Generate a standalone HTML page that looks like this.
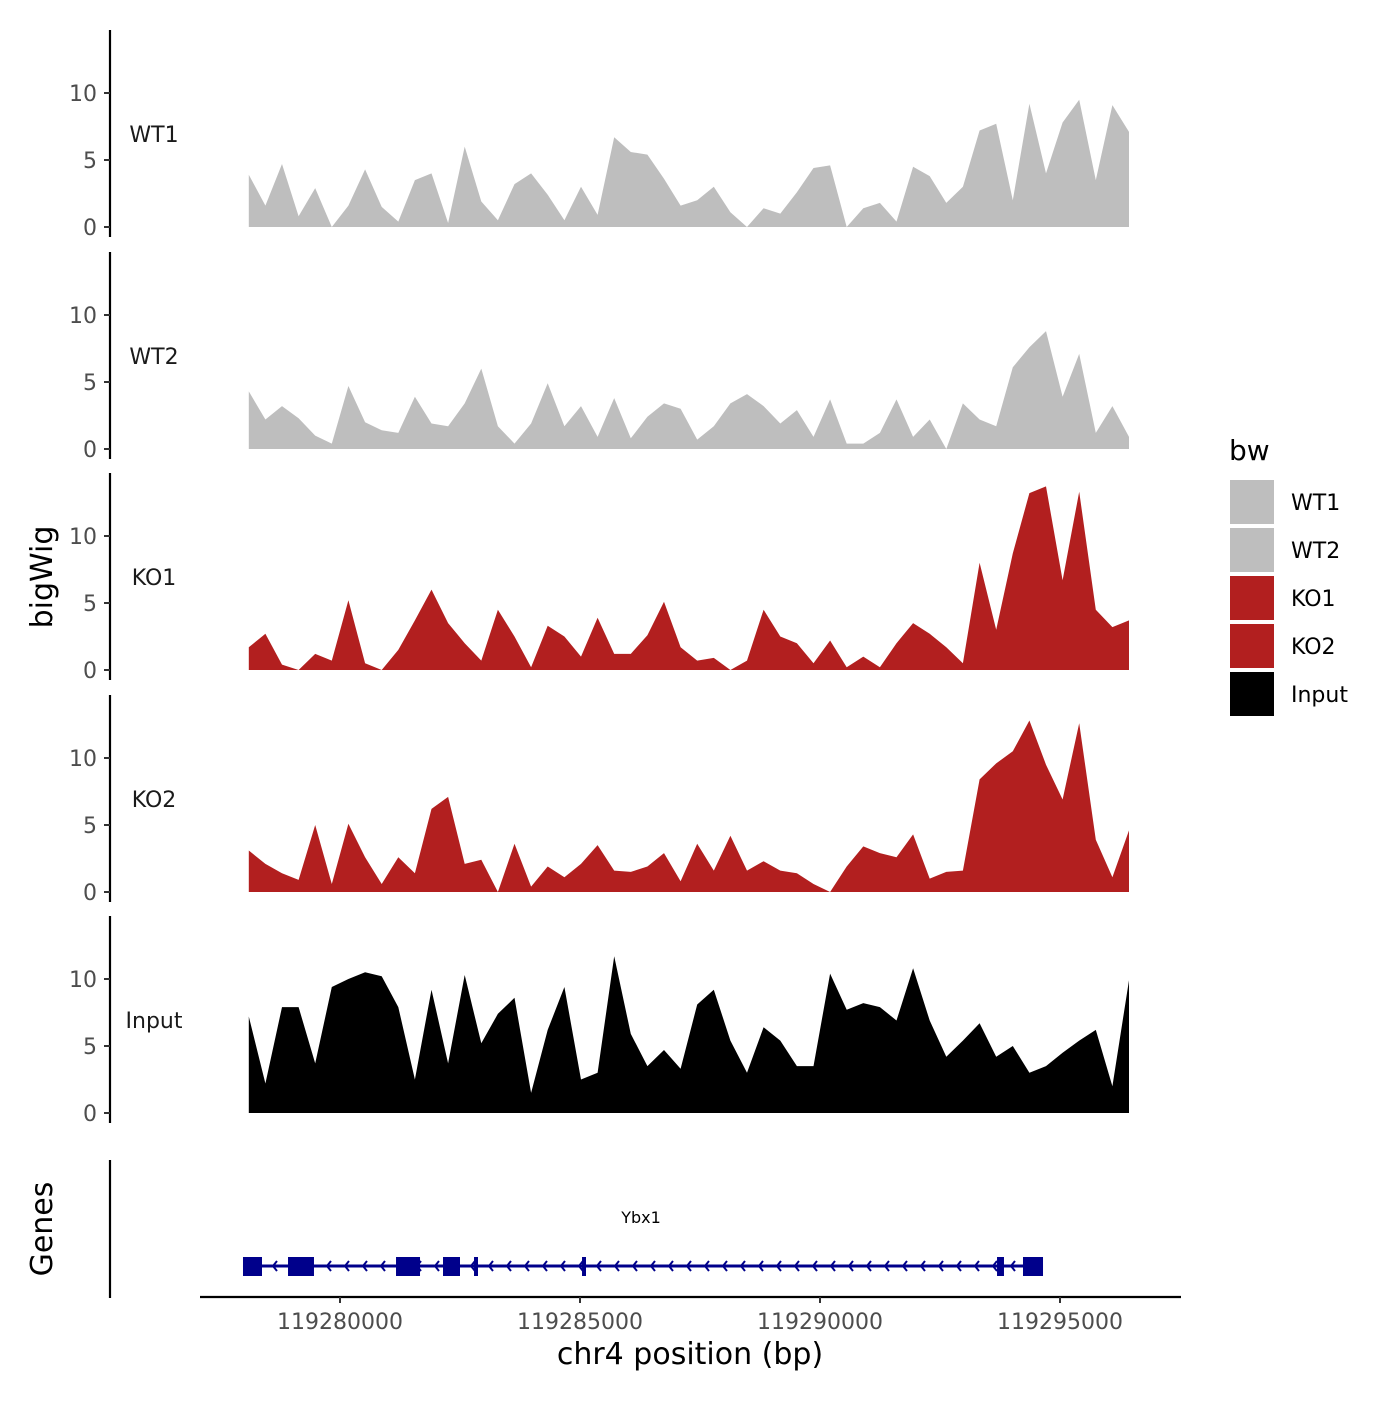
<!DOCTYPE html>
<html><head><meta charset="utf-8"><style>
html,body{margin:0;padding:0;background:#fff;}
svg text{font-family:"DejaVu Sans","Liberation Sans",sans-serif;}
</style></head><body>
<svg id="chart" width="1400" height="1400" viewBox="0 0 1400 1400" xmlns="http://www.w3.org/2000/svg"></svg>
<script>
const trackNames = ["WT1","WT2","KO1","KO2","Input"];
const trackColors = ["#bebebe","#bebebe","#b21f1f","#b21f1f","#000000"];
const posStart = 119278100;
const posStep = 346;
const wt1 = [3.9,1.6,4.7,0.8,2.9,0,1.6,4.3,1.5,0.4,3.5,4.0,0.3,6.0,1.9,0.5,3.2,4.0,2.4,0.5,3.0,0.9,6.7,5.6,5.4,3.6,1.6,2.0,3.0,1.1,0,1.4,1.0,2.6,4.4,4.6,0,1.4,1.8,0.4,4.5,3.8,1.8,3.0,7.2,7.7,2.0,9.2,4.0,7.8,9.5,3.5,9.1,7.1];
const wt2 = [4.3,2.2,3.2,2.3,1.0,0.4,4.7,2.0,1.4,1.2,3.9,1.9,1.7,3.4,6.0,1.7,0.4,1.9,4.9,1.7,3.2,0.9,3.8,0.8,2.4,3.4,3.0,0.7,1.7,3.4,4.1,3.2,1.9,2.9,0.9,3.7,0.4,0.4,1.2,3.7,0.9,2.2,0,3.4,2.2,1.7,6.1,7.6,8.8,3.9,7.1,1.2,3.2,0.9];
const ko1 = [1.7,2.7,0.4,0,1.2,0.7,5.2,0.5,0,1.5,3.7,6.0,3.5,2.0,0.7,4.5,2.5,0.2,3.3,2.5,1.0,3.9,1.2,1.2,2.6,5.1,1.7,0.7,0.9,0,0.7,4.5,2.5,2.0,0.5,2.2,0.2,1.0,0.2,2.0,3.5,2.7,1.7,0.5,8.0,3.0,8.7,13.2,13.7,6.7,13.3,4.5,3.2,3.7];
const ko2 = [3.1,2.1,1.4,0.9,5.0,0.6,5.1,2.6,0.6,2.6,1.4,6.2,7.1,2.1,2.4,0,3.6,0.4,1.9,1.1,2.1,3.5,1.6,1.5,1.9,2.9,0.8,3.6,1.6,4.2,1.6,2.3,1.6,1.4,0.6,0,1.9,3.4,2.9,2.6,4.3,1.0,1.5,1.6,8.4,9.6,10.5,12.8,9.5,6.9,12.6,3.9,1.1,4.6];
const inputSig = [7.2,2.2,7.9,7.9,3.7,9.4,10.0,10.5,10.2,7.9,2.5,9.2,3.7,10.3,5.2,7.4,8.6,1.5,6.2,9.4,2.5,3.0,11.7,5.9,3.5,4.7,3.3,8.1,9.2,5.4,3.0,6.4,5.4,3.5,3.5,10.4,7.7,8.2,7.9,6.9,10.8,6.9,4.2,5.4,6.7,4.2,5.0,3.0,3.5,4.5,5.4,6.2,2.0,9.9];
const yTicks = [0,5,10];
const xTicks = [119280000,119285000,119290000,119295000];
const exonStarts = [119277979,119278917,119281167,119282146,119282792,119285042,119293688,119294229];
const exonEnds   = [119278375,119279458,119281667,119282500,119282875,119285125,119293833,119294646];
const geneStart = 119277979, geneEnd = 119294646;

const svg = document.getElementById('chart');
const NS = 'http://www.w3.org/2000/svg';
function mk(tag, attrs, parent){const e=document.createElementNS(NS,tag);for(const k in attrs)e.setAttribute(k,attrs[k]);(parent||svg).appendChild(e);return e;}
const xScale = bp => 340 + (bp - 119280000) / 1000 * 48;
const baselines = [227,449,670,892,1113];
const pxPerUnit = 13.4;
const seriesList = [wt1, wt2, ko1, ko2, inputSig];

trackNames.forEach((name, t) => {
  const base = baselines[t];
  const yS = v => base - v * pxPerUnit;
  const g = mk('g', {});
  
  
  const ax = mk('line', {x1:110, x2:110, y1:base-197, y2:base+10, stroke:'#000', 'stroke-width':2.2}, g);
  
  
  yTicks.forEach(v => {
    const tk = mk('line', {x1:104, x2:110, y1:yS(v), y2:yS(v), stroke:'#333', 'stroke-width':2}, g);
    
    
    const tl = mk('text', {x:97, y:yS(v)+8, 'text-anchor':'end', 'font-size':22, fill:'#4d4d4d'}, g);
    tl.textContent = v;
    
    
  });
  const lab = mk('text', {x:154, y:base-85, 'text-anchor':'middle', 'font-size':22, fill:'#1a1a1a'}, g);
  lab.textContent = name;
  
  
  const data = seriesList[t];
  let d = 'M' + xScale(posStart) + ',' + base;
  data.forEach((v, i) => { d += ' L' + xScale(posStart + i*posStep).toFixed(1) + ',' + yS(v).toFixed(1); });
  d += ' L' + xScale(posStart + (data.length-1)*posStep).toFixed(1) + ',' + base + ' Z';
  const area = mk('path', {d:d, fill:trackColors[t]}, g);
  
  
});

const yt = mk('text', {x:52, y:577, 'text-anchor':'middle', 'font-size':30, fill:'#000', transform:'rotate(-90 52 577)'});
yt.textContent = 'bigWig';



const gax = mk('line', {x1:110, x2:110, y1:1160, y2:1298, stroke:'#000', 'stroke-width':2.2});


const gt = mk('text', {x:52, y:1229, 'text-anchor':'middle', 'font-size':30, fill:'#000', transform:'rotate(-90 52 1229)'});
gt.textContent = 'Genes';


const gl = mk('line', {x1:xScale(geneStart), x2:xScale(geneEnd), y1:1266, y2:1266, stroke:'#00008b', 'stroke-width':3});


for (let x = xScale(geneStart)+12; x < xScale(geneEnd)-6; x += 18) {
  const ch = mk('polyline', {points:(x+4)+',1261 '+x+',1266 '+(x+4)+',1271', fill:'none', stroke:'#00008b', 'stroke-width':2});
  
  
}
exonStarts.forEach((s, i) => {
  const w = xScale(exonEnds[i]) - xScale(s);
  const r = mk('rect', {x:xScale(s), y:1257, width:w, height:19, fill:'#00008b'});
  
  
});
const gn = mk('text', {x:641, y:1223, 'text-anchor':'middle', 'font-size':16, fill:'#000'});
gn.textContent = 'Ybx1';



const xa = mk('line', {x1:200, x2:1181, y1:1297, y2:1297, stroke:'#000', 'stroke-width':2.2});


xTicks.forEach(v => {
  const tk = mk('line', {x1:xScale(v), x2:xScale(v), y1:1297, y2:1303, stroke:'#333', 'stroke-width':2});
  
  
  const tl = mk('text', {x:xScale(v), y:1329, 'text-anchor':'middle', 'font-size':22, fill:'#4d4d4d'});
  tl.textContent = v;
  
  
});
const xt = mk('text', {x:690, y:1364, 'text-anchor':'middle', 'font-size':30, fill:'#000'});
xt.textContent = 'chr4 position (bp)';



const lt = mk('text', {x:1229, y:460, 'font-size':28, fill:'#000'});
lt.textContent = 'bw';


trackNames.forEach((name, i) => {
  const y = 480 + i*48;
  const k = mk('rect', {x:1230, y:y, width:44, height:44, fill:trackColors[i]});
  
  
  const tx = mk('text', {x:1291, y:y+30, 'font-size':22, fill:'#000'});
  tx.textContent = name;
  
  
});
</script>
</body></html>
